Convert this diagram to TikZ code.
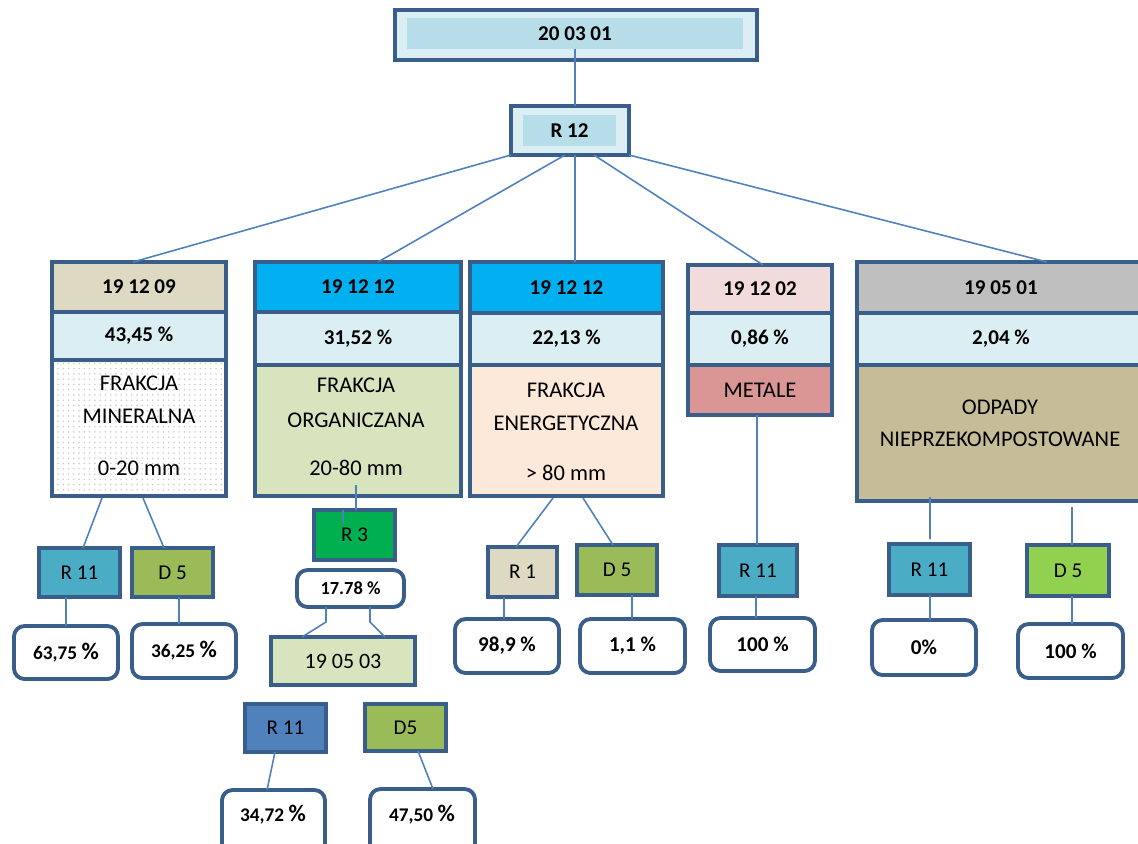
\documentclass[tikz,border=0pt]{standalone}
\usepackage{fontspec}
\setmainfont{Carlito}
\usetikzlibrary{calc,patterns}
\definecolor{bord}{RGB}{58,94,138}
\definecolor{lineblue}{RGB}{79,129,189}
\definecolor{paleblue}{RGB}{218,238,243}
\definecolor{midblue}{RGB}{183,222,232}
\definecolor{tanA}{RGB}{221,217,195}
\definecolor{cyanA}{RGB}{0,176,240}
\definecolor{greenpale}{RGB}{215,228,189}
\definecolor{peach}{RGB}{253,233,217}
\definecolor{pinkpale}{RGB}{242,220,219}
\definecolor{rosy}{RGB}{217,150,148}
\definecolor{greyA}{RGB}{191,191,191}
\definecolor{khaki}{RGB}{196,189,151}
\definecolor{tealA}{RGB}{75,172,198}
\definecolor{oliveA}{RGB}{155,187,89}
\definecolor{greenA}{RGB}{0,176,80}
\definecolor{blueA}{RGB}{79,129,189}
\definecolor{limeA}{RGB}{146,208,80}
\newcommand\bx[7]{%
  \pgfmathsetmacro\bxw{(#4-#2)*0.02}%
  \pgfmathsetmacro\bxh{(#5-#3)*0.02}%
  \node[#6,minimum width=\bxw cm,minimum height=\bxh cm] (#1) at ({(#2+#4)/2},{(#3+#5)/2}) {#7};}
\tikzset{
  cell/.style={draw=bord,line width=2.2pt,inner sep=0pt,outer sep=0pt},
  plain/.style={inner sep=0pt,outer sep=0pt},
  pctbox/.style={cell,rounded corners=6pt,fill=white,font=\bfseries\fontsize{12}{14}\selectfont},
  codef/.style={font=\bfseries\fontsize{12}{14}\selectfont},
  bodyt/.style={inner sep=0pt,font=\fontsize{12.8}{15}\selectfont},
  lab/.style={font=\fontsize{12}{14}\selectfont},
  link/.style={draw=lineblue,line width=0.9pt}
}
\newcommand\pc[1]{{\bfseries\fontsize{11}{13}\selectfont #1 }{\bfseries\fontsize{13.5}{14}\selectfont\%}}
\begin{document}
\begin{tikzpicture}[x=0.02cm,y=-0.02cm]
\useasboundingbox (0,0) rectangle (1138,843);
\clip (0,0) rectangle (1138,843);
% top
\bx{top}{395}{10}{757}{60}{cell,fill=paleblue}{}
\bx{topin}{407}{18}{743}{49}{plain,fill=midblue,codef}{20 03 01}
\bx{r12}{511}{106}{629}{155}{cell,fill=paleblue}{}
\bx{r12in}{523}{115}{616}{146}{plain,fill=midblue,codef}{R 12}
\draw[link] (topin.south) -- (topin.south |- r12.north);
% col1
\bx{c1h}{52}{262}{226}{312}{cell,fill=tanA,codef}{19 12 09}
\bx{c1p}{52}{312}{226}{360}{cell,fill=paleblue,codef}{43,45 \%}
\bx{c1b}{52}{360}{226}{496}{cell,fill=white,postaction={pattern=dots,pattern color=gray!40}}{}
\draw[draw=bord,line width=2.2pt] (c1b.south west) rectangle (c1b.north east);
\node[bodyt] (c1t1) at (139,383) {FRAKCJA};
\node[bodyt] (c1t2) at (139,416) {MINERALNA};
\node[bodyt] (c1t3) at (139,468) {0-20 mm};
% col2
\bx{c2h}{255}{262}{461}{312}{cell,fill=cyanA,codef}{19 12 12}
\bx{c2p}{255}{312}{461}{365}{cell,fill=paleblue,codef}{31,52 \%}
\bx{c2b}{255}{365}{461}{496}{cell,fill=greenpale}{}
\node[bodyt] (c2t1) at (356,385) {FRAKCJA};
\node[bodyt] (c2t2) at (356,420) {ORGANICZANA};
\node[bodyt] (c2t3) at (356,468) {20-80 mm};
% col3
\bx{c3h}{470}{262}{663}{313}{cell,fill=cyanA,codef}{19 12 12}
\bx{c3p}{470}{313}{663}{365}{cell,fill=paleblue,codef}{22,13 \%}
\bx{c3b}{470}{365}{663}{496}{cell,fill=peach}{}
\node[bodyt] (c3t1) at (566,390) {FRAKCJA};
\node[bodyt] (c3t2) at (566,423) {ENERGETYCZNA};
\node[bodyt] (c3t3) at (566,473) {> 80 mm};
% col4
\bx{c4h}{688}{265}{832}{313}{cell,fill=pinkpale,codef}{19 12 02}
\bx{c4p}{688}{313}{832}{365}{cell,fill=paleblue,codef}{0,86 \%}
\bx{c4b}{688}{365}{832}{415}{cell,fill=rosy,font=\fontsize{12.8}{15}\selectfont}{METALE}
% col5
\bx{c5h}{857}{262}{1145}{313}{cell,fill=greyA,codef}{19 05 01}
\bx{c5p}{857}{313}{1145}{365}{cell,fill=paleblue,codef}{2,04 \%}
\bx{c5b}{857}{365}{1145}{501}{cell,fill=khaki}{}
\node[bodyt] (c5t1) at (1000,407) {ODPADY};
\node[bodyt] (c5t2) at (1000,439) {NIEPRZEKOMPOSTOWANE};
% R12 links
\draw[link] (r12.south west) -- ($(c1h.north)+(-6,0)$);
\draw[link] ($(r12.south)+(-5,0)$) -- ($(c2h.north)+(20,0)$);
\draw[link] ($(r12.south)+(5,0)$) -- ($(c3h.north)+(8.5,0)$);
\draw[link] ($(r12.south)+(24,0)$) -- ($(c4h.north)+(3,0)$);
\draw[link] (r12.south east) -- ($(c5h.north)+(46,0)$);
% bottom row col1
\bx{c1r}{39}{548}{120}{597}{cell,fill=tealA,lab}{R 11}
\bx{c1d}{132}{548}{213}{597}{cell,fill=oliveA,lab}{D 5}
\bx{p1}{14}{626}{118}{679}{pctbox}{\pc{63,75}}
\bx{p2}{132}{624}{236}{678}{pctbox}{\pc{36,25}}
\draw[link] ($(c1b.south)+(-37,2)$) -- ($(c1r.north)+(3.5,0)$);
\draw[link] ($(c1b.south)+(4,2)$) -- ($(c1d.north)+(-8.5,0)$);
\draw[link] ($(c1r.south)+(-13.5,0)$) -- ($(p1.north)+(0,0)$);
\draw[link] ($(c1d.south)+(6.5,0)$) -- ($(p2.north)+(-5,0)$);
% col2 bottom
\bx{r3}{314}{510}{395}{560}{cell,fill=greenA,lab}{R 3}
\bx{p3}{297}{570}{404}{607}{pctbox,font=\bfseries\fontsize{10.5}{12}\selectfont}{17.78 \%}
\bx{b5}{271}{637}{415}{685}{cell,fill=greenpale,font=\fontsize{12.5}{14}\selectfont}{19 05 03}
\bx{br}{245}{704}{326}{752}{cell,fill=blueA,lab}{R 11}
\bx{bd}{365}{704}{446}{751}{cell,fill=oliveA,lab}{D5}
\bx{p4}{222}{790}{325}{855}{pctbox}{}
\bx{p5}{370}{789}{475}{855}{pctbox}{}
\node[plain] (p4t) at (273,815) {\pc{34,72}};
\node[plain] (p5t) at (422,815) {\pc{47,50}};
\draw[link] ($(c2b.south)+(-2,-11)$) -- ($(r3.north)+(1.5,0)$);
\draw[link] ($(r3.north)+(-11.5,0)$) -- ++(0,13) coordinate (r3tick);
\draw[link] ($(p3.south)+(-24.5,0)$) -- ++(0,15) -- ($(b5.north)+(-41,0)$);
\draw[link] ($(p3.south)+(19.5,0)$) -- ++(0,15) -- ($(b5.north)+(42,0)$);
\draw[link] ($(br.south)+(-10.5,0)$) -- ($(p4.north)+(-6.5,0)$);
\draw[link] ($(bd.south)+(12.5,0)$) -- ($(p5.north)+(10.5,0)$);
% col3 bottom
\bx{c3r}{488}{547}{557}{597}{cell,fill=tanA,lab}{R 1}
\bx{c3d}{577}{545}{657}{595}{cell,fill=oliveA,lab}{D 5}
\bx{p6}{455}{619}{559}{673}{pctbox}{98,9 \%}
\bx{p7}{580}{619}{685}{673}{pctbox}{1,1 \%}
\draw[link] ($(c3b.south)+(-13.5,2)$) -- ($(c3r.north)+(-6.5,0)$);
\draw[link] ($(c3b.south)+(16.5,2)$) -- ($(c3d.north)+(-4,0)$);
\draw[link] ($(c3r.south)+(-18.5,0)$) -- ($(p6.north)+(-3,0)$);
\draw[link] ($(c3d.south)+(15,0)$) -- ($(p7.north)+(-0.5,0)$);
% col4 bottom
\bx{c4r}{719}{545}{797}{596}{cell,fill=tealA,lab}{R 11}
\bx{p8}{710}{618}{815}{671}{pctbox}{100 \%}
\draw[link] ($(c4b.south)+(-3,0)$) -- ($(c4r.north)+(-1,0)$);
\draw[link] ($(c4r.south)+(-2,0)$) -- ($(p8.north)+(-6.5,0)$);
% col5 bottom
\bx{c5r}{889}{544}{970}{595}{cell,fill=tealA,lab}{R 11}
\bx{c5d}{1027}{545}{1109}{596}{cell,fill=limeA,lab}{D 5}
\bx{p9}{872}{620}{976}{675}{pctbox}{0\%}
\bx{p10}{1018}{624}{1123}{678}{pctbox}{100 \%}
\draw[link] ($(c5b.south)+(-71,-4)$) -- ($(c5r.north)+(0.5,-5)$);
\draw[link] ($(c5b.south)+(71,6)$) -- ($(c5d.north)+(4,0)$);
\draw[link] ($(c5r.south)+(0.5,0)$) -- ($(p9.north)+(6,0)$);
\draw[link] ($(c5d.south)+(4,0)$) -- ($(p10.north)+(1.5,0)$);
\end{tikzpicture}
\end{document}
